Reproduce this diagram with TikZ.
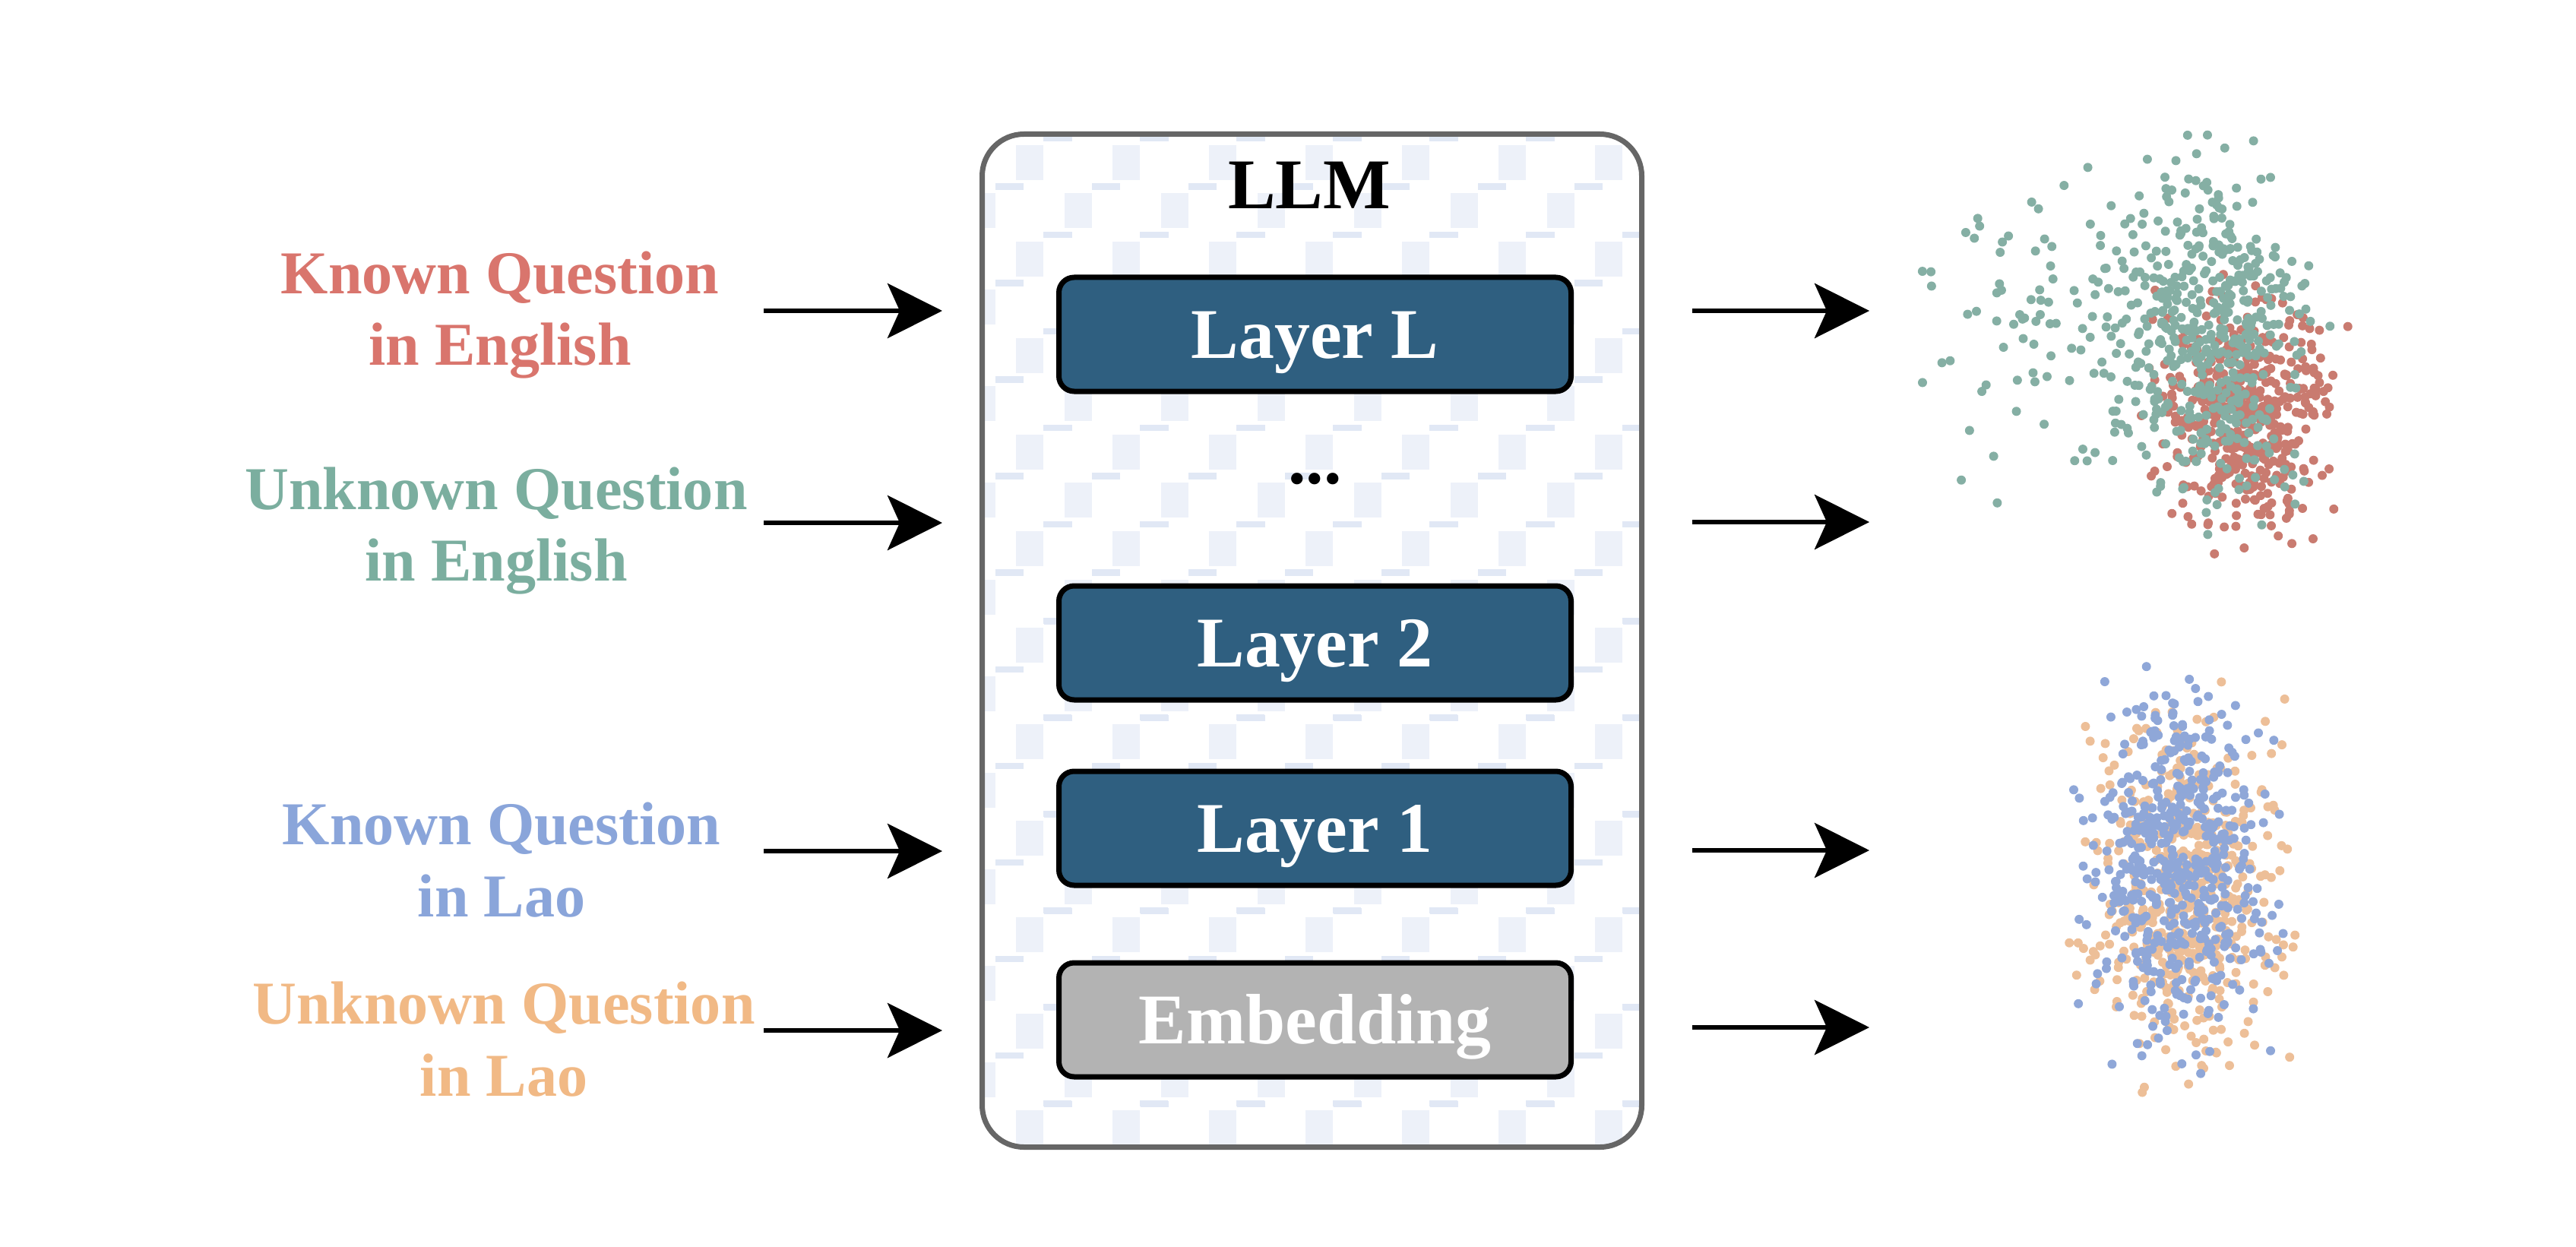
\documentclass[tikz,border=0pt]{standalone}
\usepackage{fontspec}
\setmainfont{Liberation Serif}
\usetikzlibrary{arrows.meta}

\definecolor{layerblue}{HTML}{2F5F80}
\definecolor{embedgray}{HTML}{B3B3B3}
\definecolor{boxgray}{HTML}{666666}
\definecolor{patblue}{HTML}{E1E8F5}
\definecolor{knownred}{HTML}{D9756D}
\definecolor{unknownteal}{HTML}{7BAE9F}
\definecolor{knownblue}{HTML}{8AA5DA}
\definecolor{unknownorange}{HTML}{F1B985}
\definecolor{dotred}{HTML}{C97B70}
\definecolor{dotteal}{HTML}{85AFA4}
\definecolor{dotblue}{HTML}{8FA7D8}
\definecolor{dotorange}{HTML}{EDBF98}

\begin{document}
\begin{tikzpicture}

%styles
\tikzstyle{layerbox} = [draw=black, line width=0.07cm, rounded corners=0.2cm, minimum width=6.74cm, minimum height=1.5cm, text=white, text height=17.7pt, text depth=0pt, font=\fontsize{26.7}{32}\selectfont\bfseries]
\tikzstyle{question} = [align=center, inner sep=0pt, font=\fontsize{22.8}{27}\selectfont\bfseries]
\tikzstyle{flow} = [line width=0.065cm, -{Stealth[length=0.72cm, width=0.72cm, inset=0.16cm]}]

\useasboundingbox (0,0) rectangle (33.9,-16.4);

%pattern inside the LLM
\begin{scope}
\clip[rounded corners=0.55cm] (12.925,-1.765) rectangle (21.605,-15.095);
\foreach \r in {0,...,24}
  \foreach \c in {0,...,8}
    {
    \pgfmathsetmacro{\cx}{12.33+1.27*\c+0.635*(1-mod(\r,2))}
    \pgfmathsetmacro{\cy}{-0.235-0.635*\r}
    \fill[patblue] (\cx+0.13,\cy+0.28) rectangle (\cx+0.50,\cy+0.36);
    \fill[patblue!60] (\cx-0.23,\cy-0.23) rectangle (\cx+0.13,\cy+0.23);
    \fill[patblue] (\cx-0.50,\cy-0.36) rectangle (\cx-0.13,\cy-0.28);
    }
\end{scope}

%model
\node (llm) [draw=boxgray, line width=0.07cm, rounded corners=0.55cm, minimum width=8.68cm, minimum height=13.33cm] at (17.265,-8.43) {};
\node (llmtitle) [font=\fontsize{26.7}{32}\selectfont\bfseries] at (17.23,-2.44) {LLM};

\node (layerL) [layerbox, fill=layerblue] at (17.305,-4.40) {Layer L};
\node (dots)   [below of=layerL, yshift=-0.9cm, font=\fontsize{26.7}{32}\selectfont\bfseries] {...};
\node (layer2) [layerbox, fill=layerblue, below of=layerL, yshift=-3.06cm] {Layer 2};
\node (layer1) [layerbox, fill=layerblue, below of=layer2, yshift=-1.44cm] {Layer 1};
\node (embed)  [layerbox, fill=embedgray, below of=layer1, yshift=-1.52cm] {Embedding};

%questions
\node (knownEn)   [question, text=knownred]      at (6.58,-4.145)  {Known Question\\in English};
\node (unknownEn) [question, text=unknownteal]   at (6.53,-6.985)  {Unknown Question\\in English};
\node (knownLao)  [question, text=knownblue]     at (6.60,-11.315) {Known Question\\in Lao};
\node (unknownLao)[question, text=unknownorange] at (6.63,-13.675) {Unknown Question\\in Lao};

%arrows in
\coordinate (inA1) at (10.05,-4.09);   \coordinate (inA2) at (12.40,-4.09);
\coordinate (inB1) at (10.05,-6.88);   \coordinate (inB2) at (12.40,-6.88);
\coordinate (inC1) at (10.05,-11.20);  \coordinate (inC2) at (12.40,-11.20);
\coordinate (inD1) at (10.05,-13.56);  \coordinate (inD2) at (12.40,-13.56);
\draw[flow] (inA1) -- (inA2);
\draw[flow] (inB1) -- (inB2);
\draw[flow] (inC1) -- (inC2);
\draw[flow] (inD1) -- (inD2);

%arrows out
\coordinate (outA1) at (22.27,-4.09);  \coordinate (outA2) at (24.60,-4.09);
\coordinate (outB1) at (22.27,-6.87);  \coordinate (outB2) at (24.60,-6.87);
\coordinate (outC1) at (22.27,-11.19); \coordinate (outC2) at (24.60,-11.19);
\coordinate (outD1) at (22.27,-13.52); \coordinate (outD2) at (24.60,-13.52);
\draw[flow] (outA1) -- (outA2);
\draw[flow] (outB1) -- (outB2);
\draw[flow] (outC1) -- (outC2);
\draw[flow] (outD1) -- (outD2);

%english clouds
\pgfmathsetseed{11}
\foreach \i in {1,...,470}
  {
  \pgfmathsetmacro{\px}{29.50+0.52*(rand+rand+rand)}
  \pgfmathsetmacro{\py}{-5.40+0.72*(rand+rand+rand)}
  \fill[dotred] (\px,\py) circle (0.06);
  }
\foreach \i in {1,...,420}
  {
  \pgfmathsetmacro{\px}{29.10+0.58*(rand+rand+rand)}
  \pgfmathsetmacro{\py}{-4.45+1.05*(rand+rand+rand)}
  \fill[dotteal] (\px,\py) circle (0.06);
  }
\foreach \i in {1,...,150}
  {
  \pgfmathsetmacro{\px}{27.60+1.05*(rand+rand+rand)}
  \pgfmathsetmacro{\py}{-4.30+0.95*(rand+rand+rand)}
  \fill[dotteal] (\px,\py) circle (0.06);
  }

%lao clouds
\foreach \i in {1,...,520}
  {
  \pgfmathsetmacro{\px}{28.72+0.58*(rand+rand+rand)}
  \pgfmathsetmacro{\py}{-11.80+1.10*(rand+rand+rand)}
  \fill[dotorange] (\px,\py) circle (0.06);
  }
\foreach \i in {1,...,540}
  {
  \pgfmathsetmacro{\px}{28.65+0.55*(rand+rand+rand)}
  \pgfmathsetmacro{\py}{-11.45+1.05*(rand+rand+rand)}
  \fill[dotblue] (\px,\py) circle (0.06);
  }

\end{tikzpicture}
\end{document}
